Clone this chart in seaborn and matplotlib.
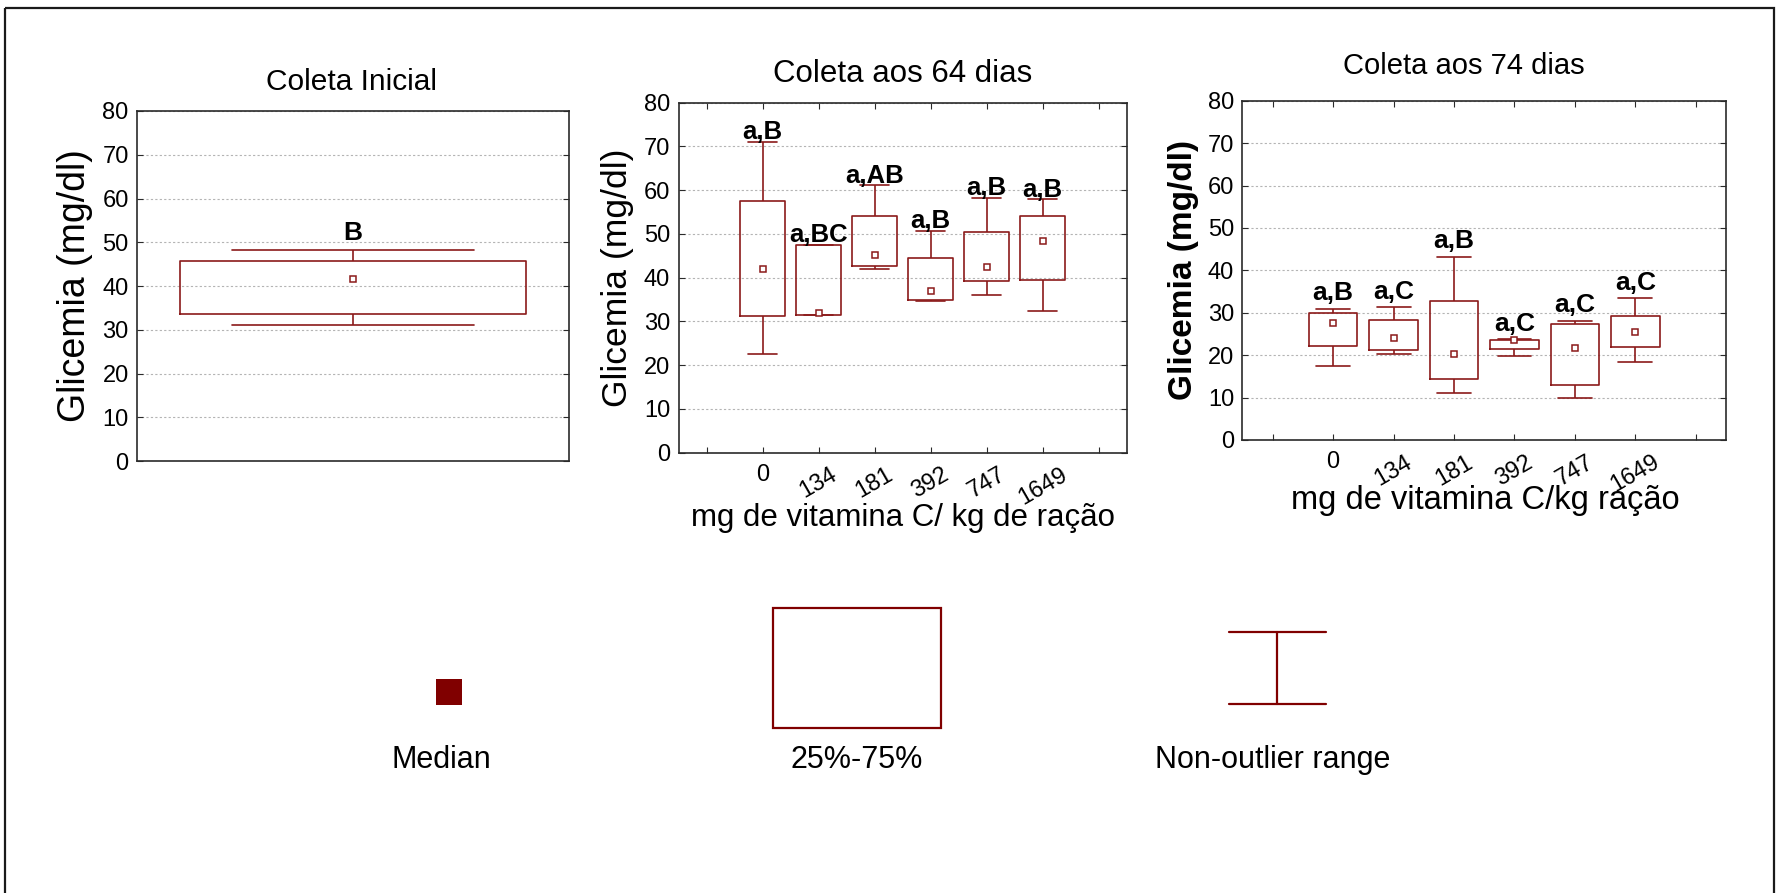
import numpy as np
import pandas as pd
import matplotlib
matplotlib.use("Agg")
import matplotlib.pyplot as plt
from matplotlib.patches import Rectangle
from matplotlib.lines import Line2D
import seaborn as sns

# ------------------------------------------------------------------ data
doses = ["0", "134", "181", "392", "747", "1649"]

# Coleta Inicial (single group)
ini_cats = ["Inicial"]
ini_low = [31.0]
ini_q1 = [33.6]
ini_med = [41.6]
ini_q3 = [45.8]
ini_high = [48.2]
ini_labels = ["B"]

# Coleta aos 64 dias
d64_low = [22.6, 31.5, 42.1, 34.7, 36.0, 32.5]
d64_q1 = [31.2, 31.5, 42.7, 35.0, 39.2, 39.4]
d64_med = [42.1, 32.0, 45.3, 37.0, 42.4, 48.5]
d64_q3 = [57.5, 47.5, 54.1, 44.6, 50.4, 54.1]
d64_high = [71.0, 47.5, 61.1, 50.7, 58.2, 57.9]
d64_labels = ["a,B", "a,BC", "a,AB", "a,B", "a,B", "a,B"]

# Coleta aos 74 dias
d74_low = [17.4, 20.2, 11.0, 19.7, 9.8, 18.5]
d74_q1 = [22.2, 21.3, 14.5, 21.4, 13.0, 21.9]
d74_med = [27.7, 24.0, 20.2, 23.5, 21.6, 25.4]
d74_q3 = [30.0, 28.4, 32.8, 23.6, 27.3, 29.2]
d74_high = [31.0, 31.3, 43.2, 23.7, 28.1, 33.4]
d74_labels = ["a,B", "a,C", "a,B", "a,C", "a,C", "a,C"]

yticks = [0, 10, 20, 30, 40, 50, 60, 70, 80]
legend_texts = ["Median", "25%-75%", "Non-outlier range"]

# ------------------------------------------------------------------ style
sns.set_style("ticks")
plt.rcParams["font.family"] = ["Liberation Sans", "DejaVu Sans"]
plt.rcParams["text.color"] = "black"
plt.rcParams["axes.labelcolor"] = "black"
plt.rcParams["xtick.color"] = "black"
plt.rcParams["ytick.color"] = "black"

RED = "#8b1a1a"
LEG_RED = "#800000"


def long_frame(cats, low, q1, med, q3, high):
    rows = []
    for c, *vals in zip(cats, low, q1, med, q3, high):
        for v in vals:
            rows.append((c, v))
    return pd.DataFrame(rows, columns=["dose", "glicemia"])


def draw_panel(ax, cats, order, low, q1, med, q3, high, labels,
               capw, lab_off, lab_size):
    df = long_frame(cats, low, q1, med, q3, high)
    sns.boxplot(data=df, x="dose", y="glicemia", order=order,
                whis=(0, 100), width=0.8, fill=False, color=RED,
                linewidth=1.2, capwidths=capw,
                medianprops={"visible": False}, ax=ax)
    sns.pointplot(data=df, x="dose", y="glicemia", order=order,
                  estimator="median", errorbar=None, linestyle="none",
                  marker="s", color=RED, markersize=4.5,
                  markerfacecolor="white", markeredgewidth=1.1, ax=ax)
    for c, h, t in zip(cats, high, labels):
        ax.text(order.index(c), h + lab_off, t, ha="center", va="baseline",
                fontsize=lab_size, fontweight="bold", color="black",
                zorder=5)
    ax.set_ylim(0, 80)
    ax.set_yticks(yticks)
    ax.set_xlim(-0.5, len(order) - 0.5)
    ax.yaxis.grid(True, linestyle=(0, (2, 2)), color="#b4b4b4", lw=0.8)
    ax.xaxis.grid(False)
    ax.set_axisbelow(True)
    for sp in ax.spines.values():
        sp.set_visible(True)
        sp.set_color("#2a2a2a")
        sp.set_linewidth(1.2)
    ax.tick_params(axis="y", direction="in", length=4, left=True,
                   right=True, labelsize=17, pad=6, colors="#2a2a2a",
                   labelcolor="black")
    ax.set_xlabel("")


fig = plt.figure(figsize=(17.8, 8.93), dpi=100)

ax1 = fig.add_axes([0.07697, 0.48376, 0.24287, 0.39194])
ax2 = fig.add_axes([0.38118, 0.49306, 0.25180, 0.39194])
ax3 = fig.add_axes([0.69803, 0.50728, 0.27163, 0.37996])

# ---- panel 1
draw_panel(ax1, ini_cats, ini_cats, ini_low, ini_q1, ini_med, ini_q3,
           ini_high, ini_labels, 0.56, 2.3, 19)
ax1.set_xticks([])
ax1.tick_params(axis="x", bottom=False, top=False)
ax1.set_ylabel("Glicemia (mg/dl)", fontsize=27, va="center")
ax1.yaxis.set_label_coords(-0.144, 0.5)
ax1.set_title("Coleta Inicial", fontsize=21.5, va="center",
              x=0.497, y=1.082, pad=0)

# ---- panel 2 and 3: padded category slots on both ends
order = [" "] + doses + ["  "]
tick_labels = [""] + doses + [""]

draw_panel(ax2, doses, order, d64_low, d64_q1, d64_med, d64_q3,
           d64_high, d64_labels, 0.51, 0.6, 18.5)
draw_panel(ax3, doses, order, d74_low, d74_q1, d74_med, d74_q3,
           d74_high, d74_labels, 0.56, 2.0, 19)

for ax in (ax2, ax3):
    ax.set_xticks(range(len(order)))
    ax.set_xticklabels(tick_labels)
    ax.tick_params(axis="x", direction="in", length=4, top=True,
                   bottom=True, labelsize=17, pad=8, colors="#2a2a2a",
                   labelcolor="black")
    for lbl in ax.get_xticklabels()[2:len(order) - 1]:
        lbl.set_rotation(30)
        lbl.set_ha("center")

ax2.set_ylabel("Glicemia (mg/dl)", fontsize=25.5, va="center")
ax2.yaxis.set_label_coords(-0.135, 0.5)
ax2.set_xlabel("mg de vitamina C/ kg de ração", fontsize=22.5, va="center")
ax2.xaxis.set_label_coords(0.5, -0.187)
ax2.set_title("Coleta aos 64 dias", fontsize=22.5, va="center",
              x=0.5, y=1.081, pad=0)

ax3.set_ylabel("Glicemia (mg/dl)", fontsize=24, fontweight="bold",
               va="center")
ax3.yaxis.set_label_coords(-0.1216, 0.5)
ax3.set_xlabel("mg de vitamina C/kg ração", fontsize=23.5, va="center")
ax3.xaxis.set_label_coords(0.502, -0.177)
ax3.set_title("Coleta aos 74 dias", fontsize=21, va="center",
              x=0.458, y=1.101, pad=0)

# ---- overlay: outer frame and legend keys (pixel space)
lax = fig.add_axes([0, 0, 1, 1])
lax.set_xlim(0, 1780)
lax.set_ylim(893, 0)
lax.axis("off")
lax.patch.set_visible(False)

lax.add_patch(Rectangle((5, 8), 1769, 900, fill=False, ec="#1a1a1a",
                        lw=1.6, clip_on=False))

lax.add_patch(Rectangle((436, 679), 26, 26, fc=LEG_RED, ec="none"))
lax.add_patch(Rectangle((773, 608), 168, 120, fill=False, ec=LEG_RED,
                        lw=1.6))
lax.add_line(Line2D([1277, 1277], [632, 704], color=LEG_RED, lw=1.6))
lax.add_line(Line2D([1229, 1326], [632, 632], color=LEG_RED, lw=1.6))
lax.add_line(Line2D([1229, 1326], [704, 704], color=LEG_RED, lw=1.6))

for xc, t in zip([441, 857, 1272.5], legend_texts):
    lax.text(xc, 760, t, ha="center", va="center", fontsize=22,
             color="black")

fig.savefig("out.png", dpi=100, facecolor="white")
